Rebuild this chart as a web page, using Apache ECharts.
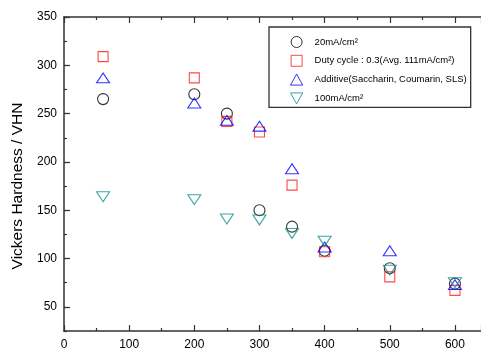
<!DOCTYPE html>
<html>
<head>
<meta charset="utf-8">
<script src="https://cdn.jsdelivr.net/npm/echarts@6/dist/echarts.min.js"></script>
<style>
  html, body { margin: 0; padding: 0; background: #fff; }
  #chart { width: 481px; height: 351px; }
</style>
</head>
<body>
<div id="chart"></div>
<script>
// current density / condition data
const xValues = [60, 200, 250, 300, 350, 400, 500, 600];
const hard20 = [265, 270, 250, 150, 133, 108, 90, 74];
const hardDuty = [309, 287, 242, 231, 176, 107, 81, 67];
const hardAdditive = [287, 261, 243, 237, 193, 112, 108, 73];
const hard100 = [164, 161, 141, 140, 126, 118, 88, 75];

const xTicks = [0, 100, 200, 300, 400, 500, 600];
const yTicks = [50, 100, 150, 200, 250, 300, 350];

const seriesNames = [
  '20mA/cm²',
  'Duty cycle : 0.3(Avg. 111mA/cm²)',
  'Additive(Saccharin, Coumarin, SLS)',
  '100mA/cm²'
];

const font = 'Liberation Sans, Arial, sans-serif';
const axisColor = '#333';
// path symbols keep their aspect ratio in the legend
const squareSym = 'path://M0,0 L10,0 L10,10 L0,10 Z';
const upTri = 'path://M5,0 L10,9 L0,9 Z';
const downTri = 'path://M0,0 L10,0 L5,9 Z';

function pairs(ys) {
  return xValues.map((x, i) => [x, ys[i]]);
}

function scatter(name, ys, symbol, size, color) {
  return {
    name: name,
    type: 'scatter',
    data: pairs(ys),
    symbol: symbol,
    symbolSize: size,
    symbolKeepAspect: true,
    itemStyle: { color: 'transparent', borderColor: color, borderWidth: 1.1 },
    emphasis: { disabled: true }
  };
}

const chart = echarts.init(document.getElementById('chart'));

const tickStyle = { color: axisColor, width: 1.2 };

const option = {
  animation: false,
  textStyle: { fontFamily: font },
  grid: { left: 64, top: 17, bottom: 17, right: -6, containLabel: false },
  legend: {
    orient: 'vertical',
    left: 269,
    top: 27,
    padding: [9, 4, 3, 21],
    itemWidth: 26,
    itemHeight: 11,
    itemGap: 6.8,
    borderColor: '#333',
    borderWidth: 1.3,
    backgroundColor: '#fff',
    itemStyle: { borderWidth: 1 },
    textStyle: { fontSize: 9.5, color: '#000', fontFamily: font },
    data: seriesNames
  },
  xAxis: [
    {
      type: 'value',
      min: 0,
      max: 640,
      interval: 100,
      splitLine: { show: false },
      axisLine: { onZero: false, lineStyle: { color: axisColor, width: 1.5 } },
      axisTick: { inside: true, length: 6, lineStyle: tickStyle },
      minorTick: { show: true, splitNumber: 2, length: 3, lineStyle: tickStyle },
      axisLabel: {
        customValues: xTicks,
        color: '#000', fontSize: 12, margin: 8, fontFamily: font
      }
    },
    {
      type: 'value',
      position: 'top',
      min: 0,
      max: 640,
      interval: 100,
      splitLine: { show: false },
      axisLine: { show: true, onZero: false, lineStyle: { color: axisColor, width: 1.5 } },
      axisTick: { show: true, inside: true, length: 6, lineStyle: tickStyle },
      minorTick: { show: true, splitNumber: 2, length: 3, lineStyle: tickStyle },
      axisLabel: { show: false }
    }
  ],
  yAxis: [
    {
      type: 'value',
      min: 25,
      max: 350,
      interval: 25,
      name: 'Vickers Hardness / VHN',
      nameLocation: 'middle',
      nameGap: 36,
      nameTextStyle: { fontSize: 15.5, color: '#000', fontFamily: font, padding: [0, 24, 0, 0] },
      splitLine: { show: false },
      axisLine: { onZero: false, lineStyle: { color: axisColor, width: 1.5 } },
      axisTick: { inside: true, length: 3, lineStyle: tickStyle },
      axisLabel: {
        customValues: yTicks,
        color: '#000', fontSize: 12, margin: 7, fontFamily: font
      }
    },
    {
      type: 'value',
      position: 'left',
      min: 25,
      max: 350,
      interval: 25,
      splitLine: { show: false },
      axisLine: { show: false },
      axisTick: { customValues: yTicks, inside: true, length: 6, lineStyle: tickStyle },
      axisLabel: { show: false }
    }
  ],
  series: [
    scatter(seriesNames[0], hard20, 'circle', 11, '#000'),
    scatter(seriesNames[1], hardDuty, squareSym, 10, '#ff1a1a'),
    scatter(seriesNames[2], hardAdditive, upTri, [13, 11], '#0000ff'),
    scatter(seriesNames[3], hard100, downTri, [13, 11], '#0f8f8f'),
    // empty series so the top frame axis is drawn
    { type: 'scatter', xAxisIndex: 1, yAxisIndex: 1, data: [], silent: true }
  ]
};

chart.setOption(option);
</script>
</body>
</html>
